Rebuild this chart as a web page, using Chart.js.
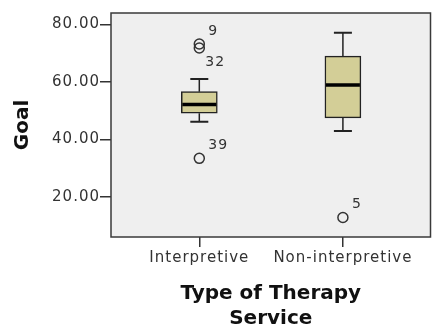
<!DOCTYPE html>
<html>
<head>
<meta charset="utf-8">
<script src="https://cdn.jsdelivr.net/npm/chart.js@4.4.1/dist/chart.umd.min.js"></script>
<style>
  html, body { margin: 0; padding: 0; background: #fff; }
  #wrap { width: 437px; height: 333px; }
</style>
</head>
<body>
<div id="wrap"><canvas id="myChart" width="437" height="333"></canvas></div>
<script>
// data
const categories = ['Interpretive', 'Non-interpretive'];
const whiskerLow = [46.1, 42.9];
const q1 = [49.1, 47.5];
const median = [52.1, 58.9];
const q3 = [56.6, 69.0];
const whiskerHigh = [61.0, 77.1];
const outlierGroup = [0, 0, 0, 1];
const outlierValue = [73.2, 71.8, 33.4, 12.8];
const outlierCase = ['9', '32', '39', '5'];
const yTicks = [20, 40, 60, 80];

const FONT = "'DejaVu Sans', sans-serif";
const INK = '#333';

const boxPlugin = {
    id: 'boxPlugin',
    beforeDraw: (chart) => {
        const {ctx, chartArea: a} = chart;
        ctx.letterSpacing = '0px';
        ctx.save();
        ctx.fillStyle = '#fff';
        ctx.fillRect(0, 0, chart.width, chart.height);
        ctx.fillStyle = '#efefef';
        ctx.fillRect(a.left, a.top, a.right - a.left, a.bottom - a.top);
        ctx.restore();
    },
    afterDatasetsDraw: (chart) => {
        const {ctx, chartArea: a} = chart;
        const xs = chart.scales.x;
        const ys = chart.scales.y;
        ctx.save();
        ctx.strokeStyle = '#222';
        for (let i = 0; i < categories.length; i++) {
            const cx = xs.getPixelForValue(i);
            // whiskers
            ctx.lineWidth = 1.5;
            ctx.beginPath();
            ctx.moveTo(cx, ys.getPixelForValue(q3[i]));
            ctx.lineTo(cx, ys.getPixelForValue(whiskerHigh[i]));
            ctx.moveTo(cx, ys.getPixelForValue(q1[i]));
            ctx.lineTo(cx, ys.getPixelForValue(whiskerLow[i]));
            ctx.stroke();
            ctx.lineWidth = 2;
            ctx.beginPath();
            [whiskerHigh[i], whiskerLow[i]].forEach(v => {
                const y = ys.getPixelForValue(v);
                ctx.moveTo(cx - 9, y);
                ctx.lineTo(cx + 9, y);
            });
            ctx.stroke();
            // median
            ctx.lineWidth = 3.5;
            ctx.strokeStyle = '#000';
            ctx.beginPath();
            const my = ys.getPixelForValue(median[i]);
            ctx.moveTo(cx - 17, my);
            ctx.lineTo(cx + 17, my);
            ctx.stroke();
            ctx.strokeStyle = '#222';
        }
        // outlier case labels
        ctx.letterSpacing = '1px';
        ctx.fillStyle = INK;
        ctx.font = '14px ' + FONT;
        ctx.textAlign = 'left';
        ctx.textBaseline = 'middle';
        for (let k = 0; k < outlierValue.length; k++) {
            const px = xs.getPixelForValue(outlierGroup[k]);
            const py = ys.getPixelForValue(outlierValue[k]);
            const crowded = outlierValue.some((v, j) => j !== k && outlierGroup[j] === outlierGroup[k] && v > outlierValue[k] && v - outlierValue[k] < 3);
            if (crowded) {
                ctx.fillText(outlierCase[k], px + 6, py + 14);
            } else {
                ctx.fillText(outlierCase[k], px + 9, py - 13);
            }
        }
        // frame
        ctx.strokeStyle = '#3a3a3a';
        ctx.lineWidth = 1.5;
        ctx.strokeRect(a.left, a.top, a.right - a.left, a.bottom - a.top);
        ctx.restore();
        // tick labels are drawn after this (ticks.z = 1), spaced out like the original
        ctx.letterSpacing = '1px';
    }
};

const displayChart = () => {
    const ctx = document.getElementById('myChart');
    new Chart(ctx, {
        type: 'bar',
        data: {
            datasets: [{
                type: 'bar',
                data: categories.map((c, i) => ({x: i, y: [q1[i], q3[i]]})),
                backgroundColor: '#d3ce97',
                borderColor: '#222',
                borderWidth: 1.5,
                borderSkipped: false,
                barThickness: 36
            }, {
                type: 'scatter',
                data: outlierValue.map((v, k) => ({x: outlierGroup[k], y: v})),
                pointStyle: 'circle',
                pointRadius: 5,
                pointBorderWidth: 1.5,
                pointBackgroundColor: 'rgba(0,0,0,0)',
                pointBorderColor: INK
            }]
        },
        options: {
            responsive: false,
            animation: false,
            layout: { padding: { left: 0, top: 13, right: 5, bottom: 0 } },
            plugins: { legend: { display: false }, tooltip: { enabled: false } },
            scales: {
                x: {
                    type: 'linear',
                    offset: false,
                    min: -0.615,
                    max: 1.61,
                    afterBuildTicks: (axis) => { axis.ticks = categories.map((c, i) => ({value: i})); },
                    afterFit: (axis) => { axis.height = 333 - 237; },
                    grid: { offset: false, drawOnChartArea: false, drawTicks: true, tickLength: 10, color: INK, lineWidth: 1.5 },
                    border: { display: false },
                    ticks: {
                        z: 1,
                        callback: (v) => categories[v],
                        autoSkip: false,
                        maxRotation: 0,
                        padding: 2,
                        color: INK,
                        font: { family: FONT, size: 15 }
                    },
                    title: {
                        display: true,
                        text: ['Type of Therapy', 'Service'],
                        color: '#111',
                        font: { family: FONT, size: 20, weight: 'bold', lineHeight: 1.25 },
                        padding: { top: 0, bottom: 2 }
                    }
                },
                y: {
                    min: 6,
                    max: 84,
                    afterBuildTicks: (axis) => { axis.ticks = yTicks.map(v => ({value: v})); },
                    afterFit: (axis) => { axis.width = 111; },
                    grid: { drawOnChartArea: false, drawTicks: true, tickLength: 11, color: INK, lineWidth: 1.5 },
                    border: { display: false },
                    ticks: {
                        z: 1,
                        callback: (v) => v.toFixed(2),
                        padding: 0,
                        color: INK,
                        font: { family: FONT, size: 15 }
                    },
                    title: {
                        display: true,
                        text: 'Goal',
                        color: '#111',
                        font: { family: FONT, size: 20, weight: 'bold', lineHeight: 1.2 },
                        padding: { top: 11, bottom: 0 }
                    }
                }
            }
        },
        plugins: [boxPlugin]
    });
};

displayChart();
</script>
</body>
</html>
